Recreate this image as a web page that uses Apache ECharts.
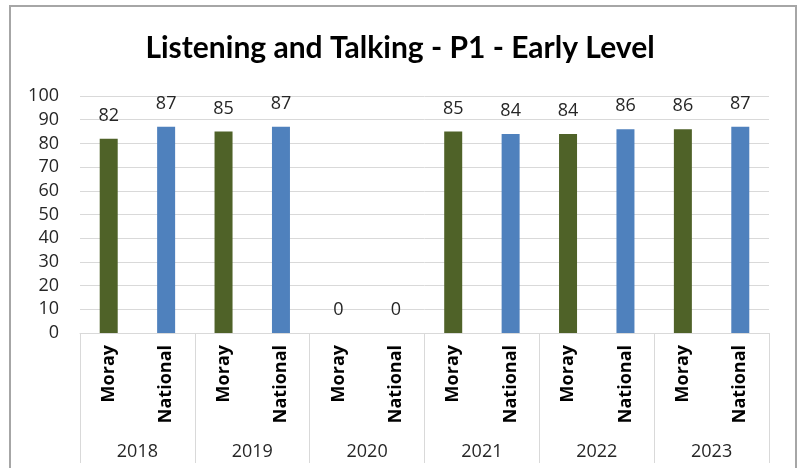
<!DOCTYPE html>
<html>
<head>
<meta charset="utf-8">
<script src="https://cdn.jsdelivr.net/npm/echarts@6/dist/echarts.min.js"></script>
<style>
  html, body { margin: 0; padding: 0; background: #fff; }
  #chart { width: 800px; height: 468px; }
</style>
</head>
<body>
<div id="chart"></div>
<script>
const years = ['2018', '2019', '2020', '2021', '2022', '2023']
const groups = ['Moray', 'National']
const moray = [82, 85, 0, 85, 84, 86]
const national = [87, 87, 0, 84, 86, 87]

const colors = { Moray: '#4F6228', National: '#4F81BD' }

// flatten into one category per bar: year x group
const cats = []
const barData = []
years.forEach(function (y, i) {
  cats.push('Moray')
  barData.push({ value: moray[i], itemStyle: { color: colors.Moray } })
  cats.push('National')
  barData.push({ value: national[i], itemStyle: { color: colors.National } })
})

const font = 'Open Sans'
const gridColor = '#D9D9D9'

const chart = echarts.init(document.getElementById('chart'))
chart.setOption({
  animation: false,
  title: {
    text: 'Listening and Talking - P1 - Early Level',
    left: 'center',
    top: 28,
    textStyle: { fontFamily: 'Lato', fontWeight: 'bold', fontSize: 30, color: '#000' }
  },
  graphic: [{
    type: 'rect',
    shape: { x: 10, y: 6, width: 786, height: 470 },
    style: { fill: 'none', stroke: '#A6A6A6', lineWidth: 2 },
    silent: true
  }],
  grid: { left: 80, right: 31, top: 96, bottom: 135, containLabel: false },
  xAxis: [
    {
      type: 'category',
      data: cats,
      axisLine: { lineStyle: { color: gridColor } },
      axisTick: { show: false },
      axisLabel: {
        rotate: 90,
        interval: 0,
        margin: 12,
        fontFamily: font,
        fontWeight: 'bold',
        fontSize: 18,
        color: '#000'
      }
    },
    {
      type: 'category',
      data: years,
      position: 'bottom',
      axisLine: { show: false },
      axisTick: { show: true, length: 130, interval: 0, lineStyle: { color: gridColor } },
      axisLabel: { margin: 110, interval: 0, fontFamily: font, fontSize: 18, color: '#262626' }
    }
  ],
  yAxis: {
    type: 'value',
    min: 0,
    max: 100,
    interval: 10,
    axisLine: { show: false },
    axisTick: { show: false },
    splitLine: { lineStyle: { color: gridColor } },
    axisLabel: { margin: 21, fontFamily: font, fontSize: 18, color: '#262626' }
  },
  series: [{
    type: 'bar',
    xAxisIndex: 0,
    barWidth: 18,
    data: barData,
    label: {
      show: true,
      position: 'top',
      distance: 14,
      fontFamily: font,
      fontSize: 18,
      color: '#262626'
    }
  }]
})
</script>
</body>
</html>
